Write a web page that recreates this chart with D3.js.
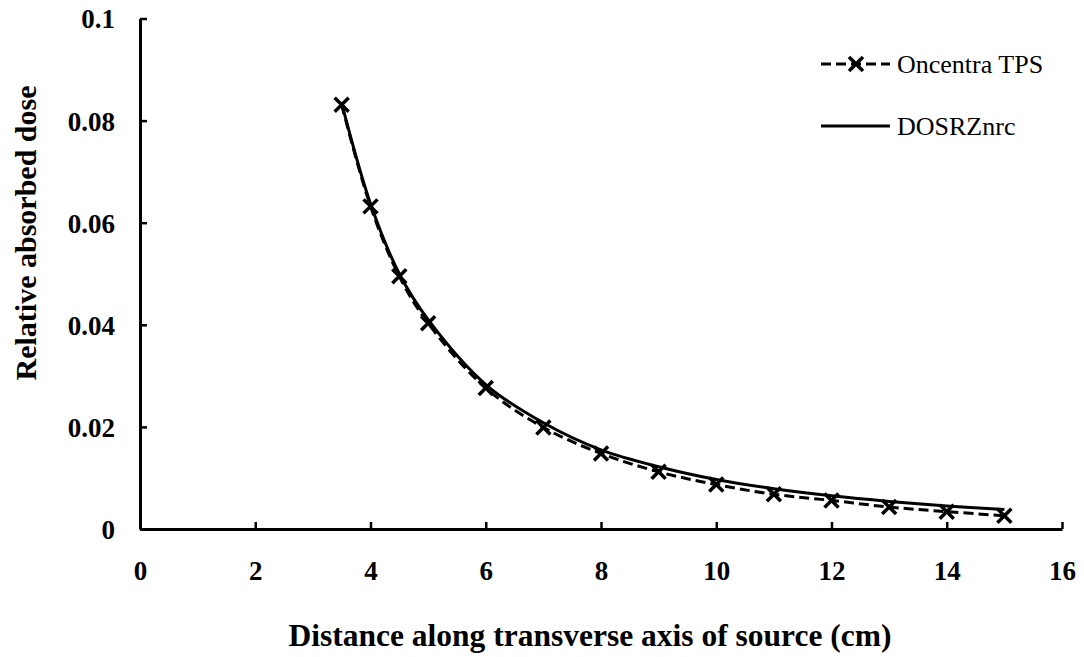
<!DOCTYPE html>
<html>
<head>
<meta charset="utf-8">
<script src="https://cdn.jsdelivr.net/npm/d3@7"></script>
</head>
<body style="margin:0; background:#fff">
<svg id="chart" width="1084" height="657" style="display:block"></svg>
<script>
// Distance along transverse axis (cm)
const distances = [3.5, 4, 4.5, 5, 6, 7, 8, 9, 10, 11, 12, 13, 14, 15];
// Relative absorbed dose, treatment planning system
const oncentraTPS = [0.0831, 0.0632, 0.0495, 0.0403, 0.0276, 0.0199, 0.0148, 0.0112, 0.0087, 0.0068, 0.0056, 0.0043, 0.0034, 0.0026];
// Relative absorbed dose, Monte Carlo (DOSRZnrc)
const dosrznrc = [0.0834, 0.0637, 0.0500, 0.0410, 0.0283, 0.0208, 0.0155, 0.0122, 0.0097, 0.0079, 0.0065, 0.0054, 0.0045, 0.0038];
const xTicks = [0, 2, 4, 6, 8, 10, 12, 14, 16];
const yTicks = [0, 0.02, 0.04, 0.06, 0.08, 0.1];
const seriesNames = ["Oncentra TPS", "DOSRZnrc"];

const FONT = "'Liberation Serif'";

const svg = d3.select("#chart").attr("font-family", "Liberation Serif");
const plot = { left: 140, right: 1062, top: 18.5, bottom: 529 };

const x = d3.scaleLinear().domain([0, 16]).range([plot.left, plot.right]);
const y = d3.scaleLinear().domain([0, 0.1]).range([plot.bottom, plot.top]);

// Axes with inward ticks
const xAxis = d3.axisBottom(x).tickValues(xTicks).tickSizeInner(-7).tickSizeOuter(0)
  .tickFormat(d => d3.format("d")(d));
const yAxis = d3.axisLeft(y).tickValues(yTicks).tickSizeInner(-7).tickSizeOuter(0)
  .tickFormat(d => d === 0 ? "0" : (d === 0.1 ? "0.1" : d3.format(".2f")(d)));

const gx = svg.append("g").attr("transform", `translate(0,${plot.bottom})`).call(xAxis);
const gy = svg.append("g").attr("transform", `translate(${plot.left},0)`).call(yAxis);

[gx, gy].forEach(g => {
  g.attr("font-family", null).attr("font-size", null);
  g.select(".domain").attr("stroke", "#000").attr("stroke-width", 3);
  g.selectAll(".tick line").attr("stroke", "#000").attr("stroke-width", 2.5);
  g.selectAll(".tick text")
    .style("font-family", FONT)
    .attr("font-weight", "bold")
    .attr("font-size", 27)
    .attr("fill", "#000");
});
gx.selectAll(".tick text").attr("y", 0).attr("dy", "0.35em").attr("transform", "translate(0,42)");
gy.selectAll(".tick text").attr("x", -25).attr("dy", "0.35em");

// Axis titles
svg.append("text")
  .attr("x", 590).attr("y", 635).attr("dy", "0.35em")
  .attr("text-anchor", "middle")
  .style("font-family", FONT).attr("font-weight", "bold").attr("font-size", 31.5)
  .text("Distance along transverse axis of source (cm)");

svg.append("text")
  .attr("transform", "translate(25,233) rotate(-90)")
  .attr("dy", "0.35em")
  .attr("text-anchor", "middle")
  .style("font-family", FONT).attr("font-weight", "bold").attr("font-size", 30)
  .text("Relative absorbed dose");

// Series
const tpsPts = distances.map((d, i) => [d, oncentraTPS[i]]);
const mcPts = distances.map((d, i) => [d, dosrznrc[i]]);

const line = d3.line().x(d => x(d[0])).y(d => y(d[1])).curve(d3.curveCatmullRom.alpha(0.5));

svg.append("path").datum(mcPts)
  .attr("d", line).attr("fill", "none")
  .attr("stroke", "#000").attr("stroke-width", 3);

svg.append("path").datum(tpsPts)
  .attr("d", line).attr("fill", "none")
  .attr("stroke", "#000").attr("stroke-width", 3)
  .attr("stroke-dasharray", "10,5");

const crossSize = 7;
function cross(g, cx, cy) {
  g.append("path")
    .attr("d", `M${cx - crossSize},${cy - crossSize}L${cx + crossSize},${cy + crossSize}M${cx - crossSize},${cy + crossSize}L${cx + crossSize},${cy - crossSize}`)
    .attr("stroke", "#000").attr("stroke-width", 3.5).attr("fill", "none");
}
const markers = svg.append("g");
tpsPts.forEach(p => cross(markers, x(p[0]), y(p[1])));

// Legend
const legend = svg.append("g");
legend.append("line").attr("x1", 821).attr("x2", 890).attr("y1", 64).attr("y2", 64)
  .attr("stroke", "#000").attr("stroke-width", 3).attr("stroke-dasharray", "10,5");
cross(legend, 856, 64);
legend.append("text").attr("x", 897).attr("y", 64).attr("dy", "0.35em")
  .style("font-family", FONT).attr("font-size", 26).text(seriesNames[0]);
legend.append("line").attr("x1", 821).attr("x2", 890).attr("y1", 126).attr("y2", 126)
  .attr("stroke", "#000").attr("stroke-width", 3);
legend.append("text").attr("x", 897).attr("y", 126).attr("dy", "0.35em")
  .style("font-family", FONT).attr("font-size", 26).text(seriesNames[1]);
</script>
</body>
</html>
